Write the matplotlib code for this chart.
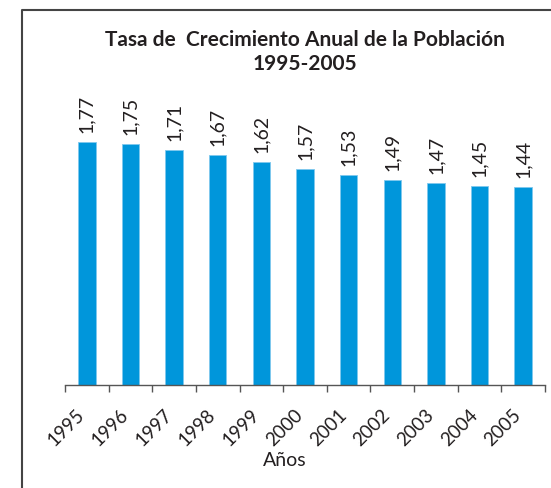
import matplotlib.pyplot as plt
from matplotlib.lines import Line2D
from matplotlib.transforms import ScaledTranslation
import numpy as np

plt.rcParams['font.family'] = ['Lato', 'DejaVu Sans']

years = ['1995', '1996', '1997', '1998', '1999', '2000',
         '2001', '2002', '2003', '2004', '2005']
tasa = [1.77, 1.75, 1.71, 1.67, 1.62, 1.57, 1.53, 1.49, 1.47, 1.45, 1.44]

W, H = 551, 488
fig = plt.figure(figsize=(W / 100, H / 100), dpi=100)
ax = fig.add_axes([65 / W, 1 - 385 / H, 480 / W, 275 / H])

x = np.arange(len(years))
ax.bar(x, tasa, width=0.4, color='#0096db', edgecolor='#7fc8ee', linewidth=0.6)

# etiquetas de valor, giradas
for xi, v in zip(x, tasa):
    ax.text(xi, v + 0.065, f"{v:.2f}".replace('.', ','), rotation=90,
            ha='center', va='bottom', fontsize=14, color='#231f20')

ax.set_xlim(-0.5, len(years) - 0.5)
ax.set_ylim(0, 2.0)
ax.set_yticks([])
ax.set_xticks(np.arange(-0.5, len(years)))
ax.set_xticklabels([])
ax.tick_params(axis='x', length=5, width=1, color='#555555')

# años en diagonal, desplazados a la izquierda como en el original
shift = ScaledTranslation(-11 / 100, -21 / 100, fig.dpi_scale_trans)
for xi, yr in zip(x, years):
    ax.text(xi, 0, yr, transform=ax.get_xaxis_transform() + shift,
            rotation=45, ha='right', va='top', rotation_mode='anchor',
            fontsize=13.5, color='#231f20')

for s in ['top', 'right', 'left']:
    ax.spines[s].set_visible(False)
ax.spines['bottom'].set_color('#555555')
ax.spines['bottom'].set_linewidth(1)

ax.set_title('Tasa de  Crecimiento Anual de la Población\n1995-2005',
             fontsize=15, fontweight='bold', color='#231f20', pad=29,
             linespacing=1.25)
fig.text(285 / W, 1 - 461 / H, 'Años', ha='center', va='center',
         fontsize=14, color='#231f20')

# marco
fig.add_artist(Line2D([22 / W, 22 / W, 1], [0, 1 - 10 / H, 1 - 10 / H],
                      color='#444444', linewidth=1.5))

fig.savefig('out.png', dpi=100)
